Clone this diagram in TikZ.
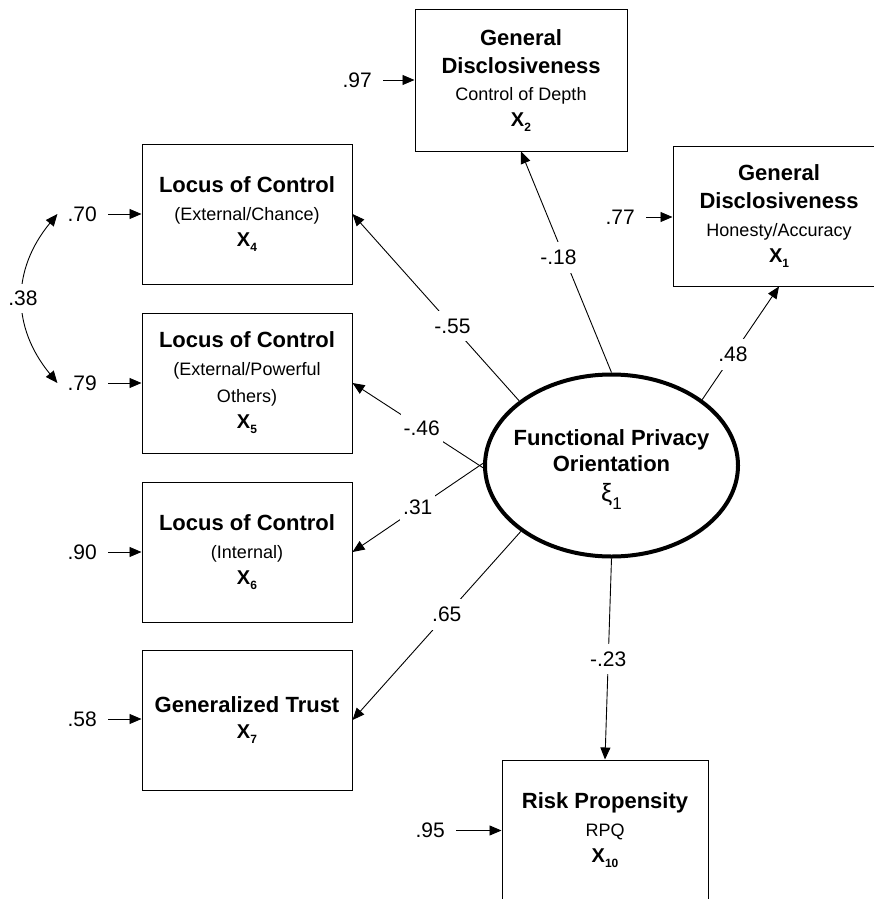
\documentclass[tikz,border=0pt]{standalone}
\usepackage{fontspec}
\setmainfont{Liberation Sans}
\usetikzlibrary{arrows.meta,shapes.geometric}
\setlength\parindent{0pt}

% line types inside the indicator boxes
\newcommand\vtitle[1]{{\fontsize{22}{28}\selectfont\bfseries #1\par}}
\newcommand\vsubtitle[1]{{\fontsize{18}{27.5}\selectfont #1\par}}
\newcommand\vname[1]{{\fontsize{20}{26}\selectfont\bfseries X\raisebox{-5pt}{\fontsize{12}{12}\selectfont\bfseries #1}\par}}

\tikzset{
  indicator/.style={draw=black, line width=1pt, minimum width=210pt, minimum height=140pt,
    text width=206pt, inner sep=0pt, align=flush center},
  latent/.style={ellipse, draw=black, line width=4pt, minimum width=253pt,
    minimum height=182pt, inner sep=0pt},
  conn/.style={line width=0.9pt, -{Triangle[length=12pt,width=10pt]}},
  corr/.style={line width=0.9pt, {Triangle[length=12pt,width=10pt]}-{Triangle[length=12pt,width=10pt]}},
  lbl/.style={fill=white, inner xsep=3pt, inner ysep=8pt, font=\fontsize{21}{21}\selectfont},
  err/.style={inner sep=0pt, anchor=east, font=\fontsize{21}{21}\selectfont},
}

\begin{document}
\begin{tikzpicture}[x=1pt, y=-1pt]
\useasboundingbox (0,0) rectangle (874,899);
\clip (0,0) rectangle (874,899);

% indicators
\node[indicator, minimum width=212pt, minimum height=141pt] (x2) at (521,80.5)
  {\vtitle{General}\vtitle{Disclosiveness}\vsubtitle{Control of Depth}\vname{2}};
\node[indicator, minimum width=212pt] (x1) at (779,216)
  {\vtitle{General}\vtitle{Disclosiveness}\vsubtitle{Honesty/Accuracy}\vname{1}};
\node[indicator] (x4) at (247,214)
  {\vtitle{Locus of Control}\vsubtitle{(External/Chance)}\vname{4}};
\node[indicator] (x5) at (247,383)
  {\vtitle{Locus of Control}\vsubtitle{(External/Powerful}\vsubtitle{Others)}\vname{5}};
\node[indicator] (x6) at (247,552)
  {\vtitle{Locus of Control}\vsubtitle{(Internal)}\vname{6}};
\node[indicator] (x7) at (247,720)
  {\vtitle{Generalized Trust}\vname{7}};
\node[indicator, minimum width=206pt] (x10) at (605,830)
  {\vtitle{Risk Propensity}\vsubtitle{RPQ}\vname{10}};

% latent factor
\node[latent] (fpo) at (611.5,465.5) {};
\node[align=flush center, text width=280pt, inner sep=0pt] (fpotext) at (611.5,470)
  {{\fontsize{22}{26}\selectfont\bfseries Functional Privacy\par}%
   {\fontsize{22}{26}\selectfont\bfseries Orientation\par}%
   {\fontsize{25}{30}\selectfont ξ\raisebox{-8pt}{\fontsize{17}{17}\selectfont 1}\par}};

% loadings
\draw[conn] (fpo.north) -- (x2.south) node[lbl, pos=0.52, xshift=-6pt] {-.18};
\draw[conn] (fpo.36) -- (x1.south) node[lbl, pos=0.4] {.48};
\draw[conn] (fpo.145) -- (x4.east) node[lbl, pos=0.4] {-.55};
\draw[conn] (fpo.181) -- (x5.east) node[lbl, pos=0.47] {-.46};
\draw[conn] (fpo.179) -- (x6.east) node[lbl, pos=0.5] {.31};
\draw[conn] (fpo.216) -- (x7.east) node[lbl, pos=0.44] {.65};
\draw[conn] (fpo.south) -- (x10.north) node[lbl, pos=0.5] {-.23};

% error terms
\node[err] (e2) at (372,80) {.97};
\node[err] (e1) at (635,217) {.77};
\node[err] (e4) at (97,214) {.70};
\node[err] (e5) at (97,383) {.79};
\node[err] (e6) at (97,552) {.90};
\node[err] (e7) at (97,719) {.58};
\node[err] (e10) at (445,830.5) {.95};
\foreach \e/\x in {e2/x2, e1/x1, e4/x4, e5/x5, e6/x6, e7/x7, e10/x10}
  \draw[conn, shorten <=11pt] (\e.east) -- (\e.east -| \x.west);

% error covariance
\draw[corr] ([xshift=-10pt]e4.west) .. controls +(-46,56) and +(-46,-56) .. ([xshift=-10pt]e5.west)
  node[lbl, pos=0.5, inner ysep=7.5pt] (r45) {.38};
\end{tikzpicture}
\end{document}
